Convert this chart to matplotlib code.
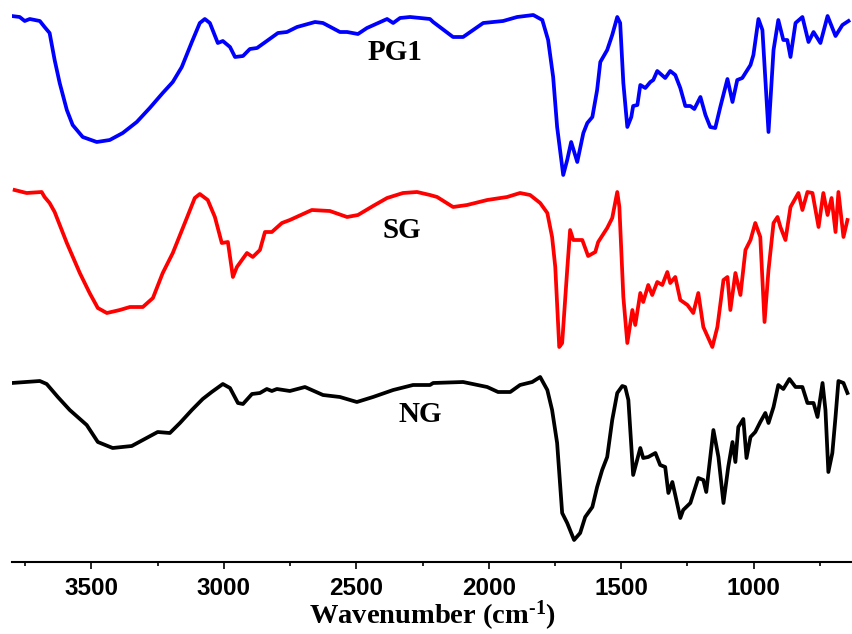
import matplotlib
matplotlib.use("Agg")
import matplotlib.pyplot as plt
from matplotlib.ticker import MultipleLocator

# FTIR spectra (wavenumber in cm-1, transmittance in arbitrary units)
pg1_wn = [3801, 3771, 3752, 3733, 3695, 3677, 3658, 3639, 3620, 3593, 3571, 3533, 3480, 3431,
          3382, 3329, 3280, 3231, 3193, 3159, 3121, 3091, 3072, 3053, 3023, 3004, 2977, 2958,
          2928, 2902, 2875, 2838, 2796, 2762, 2724, 2656, 2626, 2562, 2535, 2494, 2460, 2384,
          2361, 2335, 2297, 2259, 2222, 2210, 2135, 2097, 2021, 1946, 1893, 1832, 1798, 1776,
          1757, 1742, 1719, 1704, 1689, 1666, 1643, 1628, 1609, 1591, 1579, 1553, 1534, 1515,
          1504, 1492, 1477, 1462, 1455, 1439, 1428, 1409, 1390, 1379, 1364, 1334, 1315, 1296,
          1277, 1258, 1239, 1224, 1201, 1182, 1164, 1145, 1126, 1099, 1080, 1062, 1043, 1012,
          1001, 982, 967, 944, 925, 907, 888, 873, 861, 842, 816, 793, 774, 748, 721, 691,
          665, 642]
pg1_t = [186, 185, 181, 183, 181, 175, 169, 142, 119, 92, 77, 65, 60, 62,
         69, 80, 94, 109, 120, 135, 160, 179, 183, 179, 159, 161, 155, 145,
         146, 153, 154, 161, 169, 170, 175, 180, 179, 170, 170, 168, 174, 183,
         179, 184, 185, 184, 183, 180, 165, 165, 179, 181, 185, 187, 182, 162,
         125, 75, 27, 42, 60, 40, 69, 79, 85, 112, 140, 152, 167, 185,
         179, 119, 75, 85, 96, 97, 117, 114, 120, 122, 131, 124, 131, 127,
         114, 96, 96, 93, 105, 87, 75, 74, 95, 123, 100, 122, 124, 137,
         147, 183, 172, 70, 152, 182, 162, 162, 145, 179, 185, 160, 170, 159, 186, 166,
         177, 181]

sg_wn = [3790, 3745, 3688, 3677, 3658, 3639, 3593, 3544, 3507, 3476, 3442, 3393, 3355, 3306,
         3268, 3231, 3193, 3140, 3110, 3091, 3061, 3034, 3008, 2985, 2966, 2951, 2913, 2891,
         2864, 2845, 2819, 2781, 2751, 2668, 2600, 2535, 2494, 2437, 2384, 2324, 2271, 2222,
         2195, 2135, 2082, 2006, 1931, 1882, 1844, 1806, 1779, 1761, 1749, 1734, 1723, 1704,
         1693, 1681, 1647, 1625, 1598, 1587, 1553, 1534, 1515, 1507, 1492, 1477, 1458, 1447,
         1428, 1417, 1398, 1383, 1364, 1345, 1326, 1315, 1296, 1277, 1250, 1228, 1209, 1190,
         1156, 1137, 1114, 1099, 1088, 1069, 1050, 1031, 1012, 994, 975, 959, 944, 925, 910,
         899, 880, 861, 831, 816, 797, 778, 755, 737, 721, 706, 691, 680, 661, 646]
sg_t = [192, 189, 190, 185, 179, 170, 139, 109, 89, 74, 69, 72, 75, 75,
        84, 109, 129, 164, 184, 188, 182, 165, 139, 140, 105, 115, 129, 125,
        132, 150, 150, 159, 162, 172, 171, 165, 167, 176, 184, 189, 190, 187,
        185, 175, 177, 182, 185, 189, 187, 179, 169, 145, 115, 35, 39, 112,
        152, 142, 142, 126, 130, 140, 154, 164, 190, 175, 85, 39, 72, 57,
        89, 80, 97, 87, 100, 97, 110, 99, 105, 82, 77, 69, 89, 55,
        35, 55, 102, 105, 72, 109, 87, 132, 142, 159, 145, 60, 112, 159, 165,
        155, 142, 175, 189, 172, 190, 189, 155, 189, 167, 184, 150, 190, 145, 162]

ng_wn = [3801, 3695, 3669, 3627, 3582, 3518, 3476, 3420, 3348, 3306, 3250, 3204, 3166, 3121,
         3080, 3046, 3004, 2977, 2947, 2928, 2894, 2864, 2838, 2819, 2800, 2751, 2694, 2626,
         2562, 2498, 2437, 2361, 2286, 2222, 2210, 2097, 2006, 1965, 1919, 1882, 1836, 1806,
         1779, 1761, 1742, 1723, 1704, 1678, 1655, 1636, 1609, 1591, 1572, 1553, 1534, 1515,
         1496, 1485, 1473, 1455, 1428, 1417, 1398, 1371, 1353, 1334, 1322, 1307, 1296, 1277,
         1266, 1239, 1209, 1190, 1179, 1152, 1133, 1114, 1096, 1080, 1069, 1058, 1039, 1027,
         1012, 994, 975, 956, 944, 925, 907, 888, 865, 842, 816, 797, 774, 759, 740, 729,
         718, 703, 691, 680, 661, 646]
ng_t = [179, 181, 178, 165, 152, 137, 120, 114, 116, 122, 130, 129, 139, 152,
        163, 170, 178, 174, 159, 158, 168, 169, 173, 171, 173, 171, 175, 167,
        165, 160, 165, 172, 177, 177, 179, 180, 175, 170, 170, 177, 180, 185,
        172, 152, 119, 49, 39, 22, 29, 45, 55, 75, 92, 105, 142, 169,
        176, 175, 162, 87, 114, 104, 105, 109, 97, 95, 69, 80, 67, 44,
        52, 59, 84, 82, 70, 132, 105, 59, 95, 120, 100, 135, 143, 104,
        125, 130, 140, 149, 139, 155, 177, 173, 183, 175, 175, 159, 159, 145, 179, 152,
        90, 109, 145, 181, 179, 169]

names = ["PG1", "SG", "NG"]
colors = ["blue", "red", "black"]
offsets = [360, 180, 0]
label_pos = [(2354, 510), (2327, 332), (2259, 147)]

plt.rcParams['mathtext.fontset'] = 'custom'
plt.rcParams['mathtext.rm'] = 'Liberation Serif:bold'
plt.rcParams['mathtext.it'] = 'Liberation Serif:bold'
plt.rcParams['mathtext.bf'] = 'Liberation Serif:bold'

fig = plt.figure(figsize=(8.53, 6.34), dpi=100)
ax = fig.add_axes([12 / 853, 72 / 634, 841 / 853, 562 / 634])

series = [(pg1_wn, pg1_t), (sg_wn, sg_t), (ng_wn, ng_t)]
for (wn, t), c, off in zip(series, colors, offsets):
    ax.plot(wn, [v + off for v in t], color=c, lw=2.7, solid_joinstyle='round')

for name, (lx, ly) in zip(names, label_pos):
    ax.text(lx, ly, name, ha='center', va='center', fontsize=21, fontweight='bold',
            family='Liberation Serif')

ax.set_xlim(3800, 625)
ax.set_ylim(0, 562)
for s in ['left', 'right', 'top']:
    ax.spines[s].set_visible(False)
ax.spines['bottom'].set_linewidth(1.5)
ax.set_yticks([])
ax.xaxis.set_major_locator(MultipleLocator(500))
ax.xaxis.set_minor_locator(MultipleLocator(250))
ax.tick_params(axis='x', which='major', direction='out', length=5, width=1.2, pad=6)
ax.tick_params(axis='x', which='minor', direction='out', length=3, width=1.2)
for lab in ax.get_xticklabels():
    lab.set_family('Liberation Sans')
    lab.set_fontweight('bold')
    lab.set_fontsize(17.5)
ax.set_xlabel(r'Wavenumber (cm$^{\text{-1}}$)', fontsize=20.5, fontweight='bold',
              family='Liberation Serif', labelpad=-1)

fig.savefig('out.png', dpi=100)
